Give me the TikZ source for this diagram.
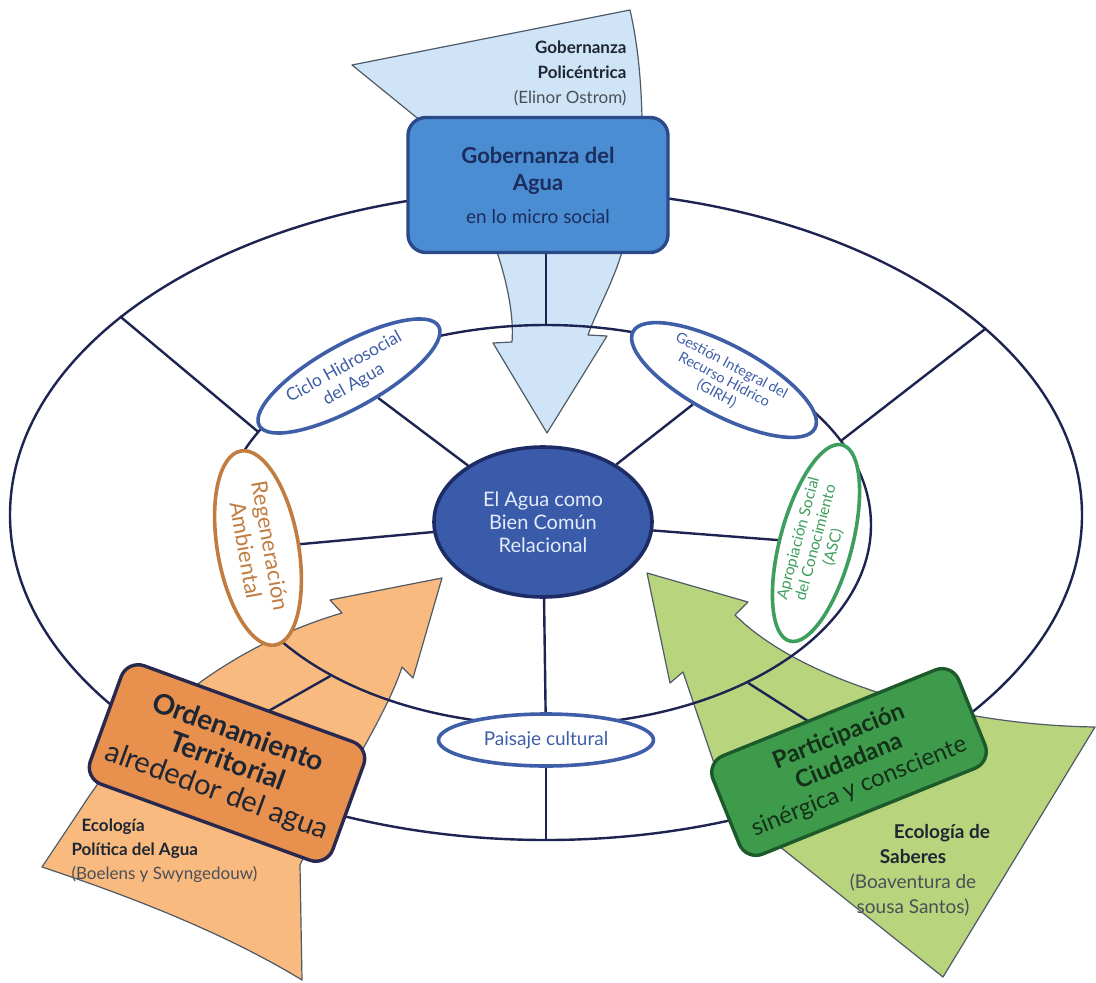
\documentclass[tikz,border=0pt]{standalone}
\usepackage{fontspec}
\setmainfont{Lato}
\usepackage{tikz}
\usetikzlibrary{shapes.geometric}
\usepackage{xcolor}

\definecolor{ringline}{HTML}{1E2452}
\definecolor{govfill}{HTML}{4A8DD2}
\definecolor{govline}{HTML}{2A4A8A}
\definecolor{govtext}{HTML}{1C2C5C}
\definecolor{skyfill}{HTML}{CFE5F7}
\definecolor{arrowline}{HTML}{4F5A66}
\definecolor{corefill}{HTML}{3A5AAA}
\definecolor{coreline}{HTML}{1E2C66}
\definecolor{coretext}{HTML}{E4ECFA}
\definecolor{ovalblue}{HTML}{3F5EA8}
\definecolor{ovalorange}{HTML}{C27C40}
\definecolor{ovalgreen}{HTML}{3E9E5E}
\definecolor{peachfill}{HTML}{F8BA7E}
\definecolor{ordenfill}{HTML}{E8904E}
\definecolor{ordenline}{HTML}{29284F}
\definecolor{limefill}{HTML}{B8D47C}
\definecolor{partfill}{HTML}{3F9B4C}
\definecolor{partline}{HTML}{1C5A2A}
\definecolor{parttext}{HTML}{143018}
\definecolor{darktext}{HTML}{1F2633}
\definecolor{greytext}{HTML}{4B4F57}

\begin{document}
\begin{tikzpicture}[x=1pt, y=-1pt,
    ring/.style={draw=ringline, line width=2.4pt, ellipse, inner sep=0pt},
    spoke/.style={draw=ringline, line width=2.4pt},
    oval/.style={draw, line width=3.6pt, fill=white, ellipse, inner sep=0pt, align=center},
    bigbox/.style={draw, line width=3.4pt, rectangle, rounded corners=18pt, align=center},
    flow/.style={draw=arrowline, line width=1.2pt, line join=round}]

    \fill[white] (0,0) rectangle (1096,983);
    \useasboundingbox (0,0) rectangle (1096,983);

    % Arrow for Gobernanza (top, light blue)
    \path[flow, fill=skyfill] (352,65) -- (630,10) .. controls (638,45) and (641,80) .. (642,117)
        -- (642,130) -- (622,252) .. controls (612,285) and (596,312) .. (588,335)
        -- (607,336) -- (547,433) -- (493,343) -- (512,342)
        .. controls (514,318) and (508,285) .. (497,252) -- (432,130) -- cycle;

    % Arrow for Ordenamiento (orange)
    \path[flow, fill=peachfill] (42,867) .. controls (120,893) and (220,930) .. (302,980)
        -- (300,865) .. controls (330,800) and (385,720) .. (402,667)
        -- (413,678) -- (442,578) -- (330,600) -- (342,613)
        .. controls (250,640) and (150,700) .. (80,810) -- cycle;

    % Arrow for Participacion (green)
    \path[flow, fill=limefill] (647,573) -- (748,602) -- (735,615)
        .. controls (800,680) and (950,725) .. (1095,727)
        -- (943,977) -- (779,846) -- (717,772) -- (683,672) -- (670,683) -- cycle;

    % Texts on the arrow tails
    \node[align=right, anchor=east, font=\fontsize{17}{25}\selectfont, text=darktext] (policentrica) at (630,73)
        {\textbf{Gobernanza}\\\textbf{Policéntrica}\\\textcolor{greytext}{(Elinor Ostrom)}};
    \node[align=left, anchor=west, font=\fontsize{17}{24}\selectfont, text=darktext] (ecopolitica) at (68,851)
        {\hspace*{10pt}\textbf{Ecología}\\\textbf{Política del Agua}\\\textcolor{greytext}{(Boelens y Swyngedouw)}};
    \node[align=center, font=\fontsize{19}{25}\selectfont, text=darktext] (ecosaberes) at (913,870)
        {\hspace*{58pt}\textbf{Ecología de}\\\textbf{Saberes}\\\textcolor{greytext}{(Boaventura de}\\\textcolor{greytext}{sousa Santos)}};

    % Rings
    \node[ring, minimum width=1072, minimum height=650] (outer) at (546,515) {};
    \node[ring, minimum width=650, minimum height=400] (inner) at (546,525) {};

    % Spokes between the rings
    \draw[spoke] (outer.north) -- (inner.north);
    \draw[spoke] (outer.155) -- (inner.162);
    \draw[spoke] (outer.23) -- (inner.16);
    \draw[spoke] (outer.214) -- (inner.215);
    \draw[spoke] (outer.323) -- (inner.322);

    % Centre
    \node[ellipse, draw=coreline, line width=3.6pt, fill=corefill, text=coretext, minimum width=218, minimum height=150,
        inner sep=0pt, align=center, font=\fontsize{20}{23}\selectfont] (core) at (543,522) {El Agua como\\Bien Común\\Relacional};

    % Ovals on the inner ring
    \node[oval, draw=ovalblue, text=ovalblue, rotate=29, minimum width=205, minimum height=64,
        font=\fontsize{17.5}{20}\selectfont] (ciclo) at (349,376) {Ciclo Hidrosocial\\del Agua};
    \node[oval, draw=ovalblue, text=ovalblue, rotate=-28, minimum width=206, minimum height=70,
        font=\fontsize{14.5}{16}\selectfont] (girh) at (724,380) {Gestión Integral del\\Recurso Hídrico\\(GIRH)};
    \node[oval, draw=ovalorange, text=ovalorange, rotate=-80, minimum width=197, minimum height=81,
        font=\fontsize{22}{25}\selectfont] (regen) at (258,548) {Regeneración\\Ambiental};
    \node[oval, draw=ovalgreen, text=ovalgreen, rotate=75, minimum width=203, minimum height=72,
        font=\fontsize{15.5}{18}\selectfont] (asc) at (816,543) {Apropiación Social\\del Conocimiento\\(ASC)};
    \node[oval, draw=ovalblue, text=ovalblue, minimum width=215, minimum height=52,
        font=\fontsize{19}{21}\selectfont] (paisaje) at (546,740) {Paisaje cultural};

    % Spokes from the centre
    \draw[spoke] (core) -- (ciclo);
    \draw[spoke] (core) -- (girh);
    \draw[spoke] (core) -- (regen);
    \draw[spoke] (core) -- (asc);
    \draw[spoke] (core) -- (paisaje);
    \draw[spoke] (paisaje) -- (outer.south);

    % Box for Gobernanza del Agua
    \node[bigbox, draw=govline, fill=govfill, text=govtext, minimum width=260, minimum height=135,
        font=\fontsize{22}{27}\selectfont\bfseries] (gob) at (538,185)
        {Gobernanza del\\Agua\\[6pt]{\mdseries\fontsize{19}{22}\selectfont en lo micro social}};

    % Box for Ordenamiento Territorial
    \node[bigbox, draw=ordenline, fill=ordenfill, text=darktext, rotate=-20, minimum width=258, minimum height=126,
        font=\fontsize{28}{31}\selectfont\bfseries] (orden) at (227,763)
        {Ordenamiento\\Territorial\\{\mdseries\fontsize{29}{31}\selectfont alrededor del agua}};

    % Box for Participacion Ciudadana
    \node[bigbox, draw=partline, fill=partfill, text=parttext, rotate=22, minimum width=265, minimum height=106,
        font=\fontsize{24}{27}\selectfont\bfseries] (partic) at (849,762)
        {Participación\\Ciudadana\\{\mdseries sinérgica y consciente}};
\end{tikzpicture}
\end{document}
